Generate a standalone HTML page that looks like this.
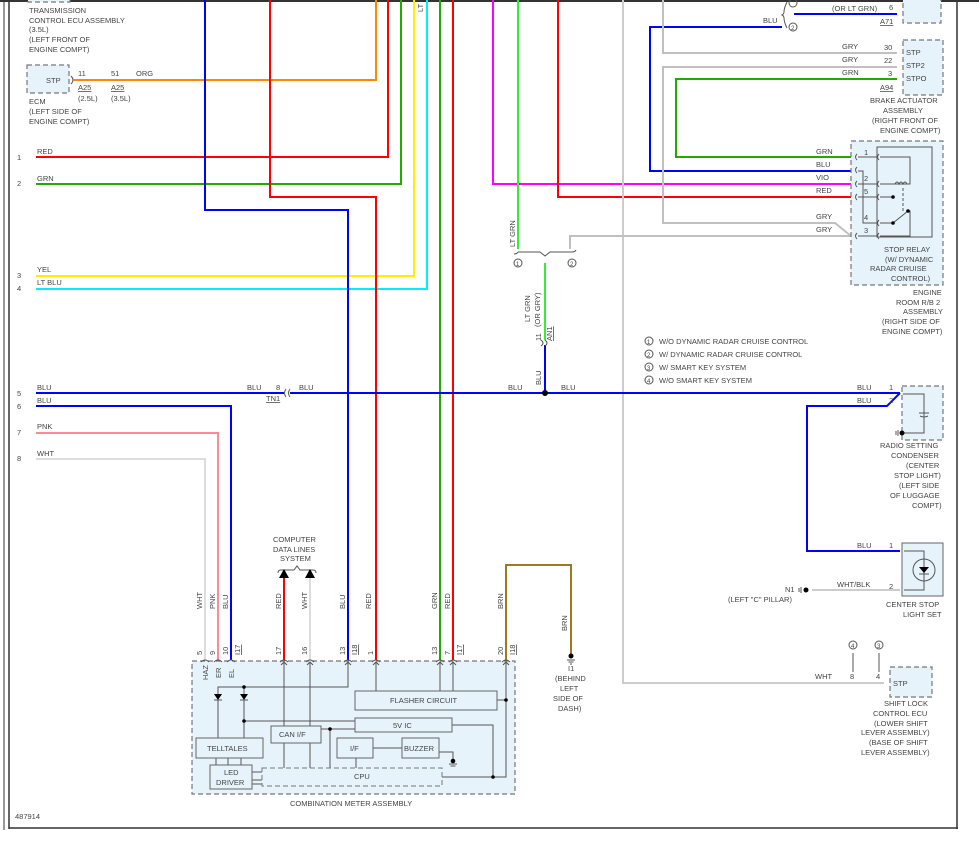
<!DOCTYPE html>
<html><head><meta charset="utf-8"><style>
html,body{margin:0;padding:0;background:#fff;}
svg{display:block;font-family:"Liberation Sans",sans-serif;}
text{font-size:7.5px;fill:#444;}
.w{fill:none;stroke-width:2;}
.t{fill:none;stroke:#555;stroke-width:1;}
.box{fill:#e6f3fb;stroke:#777;stroke-width:1.2;stroke-dasharray:5,3;}
.ib{fill:#e6f3fb;stroke:#666;stroke-width:1;}
</style></head><body>
<svg width="979" height="846" viewBox="0 0 979 846" xmlns="http://www.w3.org/2000/svg">
<rect x="0" y="0" width="979" height="846" fill="#fff"/>
<!-- frame -->
<line x1="0" y1="1" x2="979" y2="1" stroke="#333" stroke-width="2"/>
<line x1="4" y1="0" x2="4" y2="830" stroke="#333" stroke-width="1"/>
<line x1="9" y1="0" x2="9" y2="829" stroke="#333" stroke-width="1.5"/>
<line x1="9" y1="828" x2="958" y2="828" stroke="#333" stroke-width="1.5"/>
<line x1="957" y1="0" x2="957" y2="829" stroke="#333" stroke-width="1.5"/>

<!-- top-left text -->
<rect x="28" y="-6" width="42" height="8" class="box"/>
<text x="29" y="13">TRANSMISSION</text>
<text x="29" y="23">CONTROL ECU ASSEMBLY</text>
<text x="29" y="32">(3.5L)</text>
<text x="29" y="42">(LEFT FRONT OF</text>
<text x="29" y="52">ENGINE COMPT)</text>
<rect x="27" y="65" width="42" height="28" class="box"/>
<text x="46" y="83">STP</text>
<text x="29" y="104">ECM</text>
<text x="29" y="114">(LEFT SIDE OF</text>
<text x="29" y="124">ENGINE COMPT)</text>
<text x="78" y="76">11</text><text x="111" y="76">51</text><text x="136" y="76">ORG</text>
<text x="78" y="90" text-decoration="underline">A25</text><text x="111" y="90" text-decoration="underline">A25</text>
<text x="78" y="101">(2.5L)</text><text x="111" y="101">(3.5L)</text>
<path d="M71 76 q4 4 0 8" class="t"/>

<!-- left wire numbers & labels -->
<text x="17" y="160">1</text><text x="17" y="186">2</text><text x="17" y="278">3</text><text x="17" y="291">4</text>
<text x="17" y="396">5</text><text x="17" y="409">6</text><text x="17" y="435">7</text><text x="17" y="461">8</text>
<text x="37" y="154">RED</text><text x="37" y="181">GRN</text><text x="37" y="272">YEL</text><text x="37" y="285">LT BLU</text>
<text x="37" y="390">BLU</text><text x="37" y="403">BLU</text><text x="37" y="429">PNK</text><text x="37" y="456">WHT</text>

<!-- wires -->
<polyline class="w" stroke="#ff8800" points="73,80 376,80 376,0"/>
<polyline class="w" stroke="#ff0000" points="36,157 388,157 388,0"/>
<polyline class="w" stroke="#22aa00" points="36,184 401,184 401,0"/>
<polyline class="w" stroke="#ffee00" points="36,276 414,276 414,0"/>
<polyline class="w" stroke="#00eeff" points="36,289 427,289 427,0"/>
<polyline class="w" stroke="#0000ff" points="205,0 205,210 348,210 348,660"/>
<polyline class="w" stroke="#ff0000" points="270,0 270,197 376,197 376,660"/>
<line class="w" stroke="#22aa00" x1="440" y1="0" x2="440" y2="660"/>
<line class="w" stroke="#ff0000" x1="453" y1="0" x2="453" y2="660"/>
<text x="0" y="0" transform="translate(423,12) rotate(-90)">LT</text>
<polyline class="w" stroke="#ff00ff" points="493,0 493,184 855,184"/>
<line class="w" stroke="#33ee33" x1="518" y1="0" x2="518" y2="249"/>
<polyline class="w" stroke="#ff0000" points="558,0 558,197 855,197"/>
<polyline class="w" stroke="#cccccc" points="623,0 623,683 884,683"/>
<polyline class="w" stroke="#0000ff" points="782,27 650,27 650,171 855,171"/>
<line class="w" stroke="#0000ff" x1="794" y1="14" x2="897" y2="14"/>
<polyline class="w" stroke="#c0c0c0" points="663,0 663,53 897,53"/>
<polyline class="w" stroke="#c0c0c0" points="897,67 663,67 663,223 835,223 851,236"/>
<polyline class="w" stroke="#22aa00" points="897,79 676,79 676,157 855,157"/>
<polyline class="w" stroke="#c0c0c0" points="570,249 570,236 855,236"/>
<line class="w" stroke="#33ee33" x1="545" y1="263" x2="545" y2="340"/>
<line class="w" stroke="#0000ff" x1="545" y1="345" x2="545" y2="393"/>
<line class="w" stroke="#0000ff" x1="36" y1="393" x2="284" y2="393"/>
<line class="w" stroke="#0000ff" x1="290" y1="393" x2="900" y2="393"/>
<circle cx="545" cy="393" r="3" fill="#000"/>
<polyline class="w" stroke="#0000ff" points="36,406 231,406 231,660"/>
<polyline class="w" stroke="#ff8899" points="36,433 218,433 218,660"/>
<polyline class="w" stroke="#dddddd" points="36,459 205,459 205,660"/>
<polyline class="w" stroke="#0000ff" points="900,393 887,406 807,406 807,551 900,551"/>
<line class="w" stroke="#cccccc" x1="812" y1="590" x2="900" y2="590"/>
<polyline class="w" stroke="#a07820" points="506,660 506,565 571,565 571,655"/>
<line class="w" stroke="#ff0000" x1="284" y1="578" x2="284" y2="660"/>
<line class="w" stroke="#dddddd" x1="310" y1="578" x2="310" y2="660"/>

<!-- TN1 -->
<text x="247" y="390">BLU</text><text x="276" y="390">8</text><text x="299" y="390">BLU</text>
<text x="266" y="401" text-decoration="underline">TN1</text>
<path d="M286 389 q-3 4 0 8 M290 389 q-3 4 0 8" class="t"/>
<text x="508" y="390">BLU</text><text x="561" y="390">BLU</text>
<text x="857" y="390">BLU</text><text x="889" y="390">1</text>
<text x="857" y="403">BLU</text><text x="889" y="403">2</text>

<!-- splice -->
<path d="M514 254 q3 0 4 -2 M518 252 L540 252 L545 256 L550 252 L572 252 q3 0 4 -2" class="t" stroke="#666"/>
<circle cx="518" cy="263" r="4" class="t"/><text x="516" y="266" style="font-size:6px">1</text>
<circle cx="572" cy="263" r="4" class="t"/><text x="570" y="266" style="font-size:6px">2</text>
<text transform="translate(515,247) rotate(-90)">LT GRN</text>
<text transform="translate(530,322) rotate(-90)">LT GRN</text>
<text transform="translate(540,327) rotate(-90)">(OR GRY)</text>
<text transform="translate(541,341) rotate(-90)">11</text>
<text transform="translate(552,341) rotate(-90)" text-decoration="underline">AN1</text>
<path d="M541 340 q4 3 0 6 M545 340 q4 3 0 6" class="t"/>
<text transform="translate(541,385) rotate(-90)">BLU</text>

<!-- legend -->
<circle cx="649" cy="341" r="4" class="t"/><text x="647" y="344" style="font-size:6px">1</text><text x="659" y="344">W/O DYNAMIC RADAR CRUISE CONTROL</text>
<circle cx="649" cy="354" r="4" class="t"/><text x="647" y="357" style="font-size:6px">2</text><text x="659" y="357">W/ DYNAMIC RADAR CRUISE CONTROL</text>
<circle cx="649" cy="367" r="4" class="t"/><text x="647" y="370" style="font-size:6px">3</text><text x="659" y="370">W/ SMART KEY SYSTEM</text>
<circle cx="649" cy="380" r="4" class="t"/><text x="647" y="383" style="font-size:6px">4</text><text x="659" y="383">W/O SMART KEY SYSTEM</text>

<!-- top right -->
<rect x="903" y="-6" width="38" height="29" class="box"/>
<text x="832" y="11">(OR LT GRN)</text><text x="889" y="10">6</text>
<text x="880" y="24" text-decoration="underline">A71</text>
<path d="M787 2 q-3 6 -3 10 q0 2 -2 3 q2 1 2 3 q0 4 3 10" class="t"/>
<circle cx="793" cy="3" r="4" class="t"/>
<circle cx="793" cy="27" r="4" class="t"/><text x="791" y="30" style="font-size:6px">2</text>
<text x="763" y="23">BLU</text>

<!-- brake actuator -->
<rect x="903" y="40" width="40" height="55" class="box"/>
<text x="906" y="55">STP</text><text x="906" y="68">STP2</text><text x="906" y="81">STPO</text>
<text x="842" y="49">GRY</text><text x="884" y="50">30</text>
<text x="842" y="62">GRY</text><text x="884" y="63">22</text>
<text x="842" y="75">GRN</text><text x="888" y="76">3</text>
<text x="880" y="90" text-decoration="underline">A94</text>
<text x="870" y="103">BRAKE ACTUATOR</text>
<text x="883" y="113">ASSEMBLY</text>
<text x="872" y="123">(RIGHT FRONT OF</text>
<text x="880" y="133">ENGINE COMPT)</text>

<!-- engine room R/B -->
<rect x="851" y="141" width="92" height="144" class="box"/>
<rect x="877" y="147" width="55" height="90" fill="none" stroke="#555"/>
<text x="816" y="154">GRN</text><text x="816" y="167">BLU</text><text x="816" y="180">VIO</text><text x="816" y="193">RED</text>
<text x="816" y="219">GRY</text><text x="816" y="232">GRY</text>
<text x="864" y="155">1</text><text x="864" y="181">2</text><text x="864" y="194">5</text><text x="864" y="220">4</text><text x="864" y="233">3</text>
<g class="t">
<path d="M857 154 q-3 3 0 6 M857 167 q-3 3 0 6 M857 181 q-3 3 0 6 M857 194 q-3 3 0 6 M857 233 q-3 3 0 6"/>
<path d="M879 154 q-3 3 0 6 M879 181 q-3 3 0 6 M879 194 q-3 3 0 6 M879 220 q-3 3 0 6 M879 233 q-3 3 0 6"/>
<path d="M858 157 H877 M858 184 H877 M858 197 H877 M858 236 H877 M858 171 H863 V223 H877"/>
<path d="M880 157 H910 V184 H880 M880 197 H893 M880 223 H893 L908 211 H910 V236 H880"/>
<path d="M895 184 q2 -4 4 0 q2 -4 4 0 q2 -4 4 0" />
<path d="M903 188 V212" stroke-dasharray="3,2"/>
</g>
<circle cx="893" cy="197" r="1.8" fill="#000"/><circle cx="893" cy="223" r="1.8" fill="#000"/><circle cx="908" cy="211" r="1.8" fill="#000"/>
<text x="884" y="252">STOP RELAY</text>
<text x="885" y="262">(W/ DYNAMIC</text>
<text x="870" y="271">RADAR CRUISE</text>
<text x="891" y="281">CONTROL)</text>
<text x="913" y="295">ENGINE</text>
<text x="896" y="305">ROOM R/B 2</text>
<text x="903" y="314">ASSEMBLY</text>
<text x="882" y="324">(RIGHT SIDE OF</text>
<text x="882" y="334">ENGINE COMPT)</text>

<!-- radio condenser -->
<rect x="902" y="386" width="41" height="54" class="box"/>
<path d="M903 394 H924 V433 H903 M919 413 H929 M920 416 q4 2 8 0" class="t"/>
<circle cx="902" cy="433" r="2.5" fill="#000"/><path d="M898 430 V436 M896 431 V435" class="t"/>
<text x="880" y="448">RADIO SETTING</text>
<text x="891" y="458">CONDENSER</text>
<text x="906" y="468">(CENTER</text>
<text x="894" y="478">STOP LIGHT)</text>
<text x="899" y="488">(LEFT SIDE</text>
<text x="890" y="498">OF LUGGAGE</text>
<text x="912" y="508">COMPT)</text>

<!-- center stop light -->
<rect x="902" y="543" width="41" height="53" class="ib" stroke="#555"/>
<path d="M904 551 H924 V590 H904" class="t"/>
<circle cx="924" cy="570" r="11" class="t" fill="#e6f3fb"/>
<path d="M919 567 L929 567 L924 573 Z" fill="#000"/><path d="M919 574 H929" class="t"/>
<text x="857" y="548">BLU</text><text x="889" y="548">1</text>
<text x="837" y="587">WHT/BLK</text><text x="889" y="589">2</text>
<circle cx="806" cy="590" r="2.5" fill="#000"/><path d="M801 587 V593 M799 588 V592" class="t"/>
<text x="785" y="592">N1</text>
<text x="728" y="602">(LEFT "C" PILLAR)</text>
<text x="886" y="607">CENTER STOP</text>
<text x="903" y="617">LIGHT SET</text>

<!-- shift lock -->
<circle cx="853" cy="645" r="4" class="t"/><text x="851" y="648" style="font-size:6px">4</text>
<circle cx="879" cy="645" r="4" class="t"/><text x="877" y="648" style="font-size:6px">3</text>
<path d="M853 653 V672 M879 653 V672" class="t"/>
<text x="850" y="679">8</text><text x="876" y="679">4</text><text x="815" y="679">WHT</text>
<rect x="890" y="667" width="42" height="30" class="box"/>
<text x="893" y="686">STP</text>
<text x="884" y="706">SHIFT LOCK</text>
<text x="873" y="716">CONTROL ECU</text>
<text x="874" y="726">(LOWER SHIFT</text>
<text x="861" y="735">LEVER ASSEMBLY)</text>
<text x="869" y="745">(BASE OF SHIFT</text>
<text x="861" y="755">LEVER ASSEMBLY)</text>

<!-- computer data lines -->
<text x="273" y="542">COMPUTER</text><text x="273" y="552">DATA LINES</text><text x="280" y="561">SYSTEM</text>
<path d="M278 573 q0 -3 3 -3 L294 570 L297 566 L300 570 L313 570 q3 0 3 3" class="t"/>
<path d="M279 578 L284 569 L289 578 Z M305 578 L310 569 L315 578 Z" fill="#000"/>

<!-- ground I1 -->
<circle cx="571" cy="656" r="2.5" fill="#000"/><path d="M567 660 H575 M568.5 662 H573.5 M570 664 H572" class="t"/>
<text transform="translate(567,631) rotate(-90)">BRN</text>
<text x="568" y="671">I1</text>
<text x="555" y="681">(BEHIND</text><text x="560" y="691">LEFT</text><text x="553" y="701">SIDE OF</text><text x="558" y="711">DASH)</text>

<!-- meter vertical labels -->
<g>
<text transform="translate(202,609) rotate(-90)">WHT</text>
<text transform="translate(215,609) rotate(-90)">PNK</text>
<text transform="translate(228,609) rotate(-90)">BLU</text>
<text transform="translate(281,609) rotate(-90)">RED</text>
<text transform="translate(307,609) rotate(-90)">WHT</text>
<text transform="translate(345,609) rotate(-90)">BLU</text>
<text transform="translate(371,609) rotate(-90)">RED</text>
<text transform="translate(437,609) rotate(-90)">GRN</text>
<text transform="translate(450,609) rotate(-90)">RED</text>
<text transform="translate(503,609) rotate(-90)">BRN</text>
<text transform="translate(202,655) rotate(-90)">5</text>
<text transform="translate(215,655) rotate(-90)">9</text>
<text transform="translate(228,655) rotate(-90)">10</text>
<text transform="translate(240,655) rotate(-90)" text-decoration="underline">I17</text>
<text transform="translate(281,655) rotate(-90)">17</text>
<text transform="translate(307,655) rotate(-90)">16</text>
<text transform="translate(345,655) rotate(-90)">13</text>
<text transform="translate(357,655) rotate(-90)" text-decoration="underline">I18</text>
<text transform="translate(373,655) rotate(-90)">1</text>
<text transform="translate(437,655) rotate(-90)">13</text>
<text transform="translate(450,655) rotate(-90)">7</text>
<text transform="translate(462,655) rotate(-90)" text-decoration="underline">I17</text>
<text transform="translate(503,655) rotate(-90)">20</text>
<text transform="translate(515,655) rotate(-90)" text-decoration="underline">I18</text>
</g>

<!-- meter box -->
<rect x="192" y="661" width="323" height="133" class="box"/>
<g class="t">
<path d="M201 662 q4 -4 8 0 M214 662 q4 -4 8 0 M227 662 q4 -4 8 0 M280 662 q4 -4 8 0 M306 662 q4 -4 8 0 M344 662 q4 -4 8 0 M372 662 q4 -4 8 0 M436 662 q4 -4 8 0 M449 662 q4 -4 8 0 M502 662 q4 -4 8 0"/>
<path d="M281 665 L284 662 L287 665 M307 665 L310 662 L313 665 M345 665 L348 662 L351 665 M373 665 L376 662 L379 665 M437 665 L440 662 L443 665 M450 665 L453 662 L456 665 M503 665 L506 662 L509 665"/>
<path d="M348 662 V687 H218 V738 M244 687 V738 M244 721 H355 M284 662 V726 M310 662 V726 M376 662 V691 M440 662 V691 M453 662 V691 M506 662 V777 H493 V725 H452 M497 700 H506 M321 729 H355 M330 729 V768 M284 743 V768 M310 743 V768 M356 758 V768 M373 748 H402 M439 752 H453 V762 M442 777 H493 M216 758 V765 M228 758 V765 M241 758 V765 M252 772 H262 M252 780 H262 M252 784 H262"/>
</g>
<path d="M214 694 H222 L218 700 Z M240 694 H248 L244 700 Z" fill="#000"/>
<path d="M214 700 H222 M240 700 H248" class="t"/>
<circle cx="244" cy="687" r="1.8" fill="#000"/><circle cx="244" cy="721" r="1.8" fill="#000"/>
<circle cx="330" cy="729" r="1.8" fill="#000"/><circle cx="506" cy="700" r="1.8" fill="#000"/><circle cx="493" cy="777" r="1.8" fill="#000"/>
<circle cx="453" cy="761" r="2.3" fill="#000"/><path d="M449 764 H457 M450.5 766 H455.5" class="t"/>
<text transform="translate(208,680) rotate(-90)">HAZ</text>
<text transform="translate(221,678) rotate(-90)">ER</text>
<text transform="translate(234,678) rotate(-90)">EL</text>
<rect x="355" y="691" width="142" height="19" class="ib"/><text x="390" y="703">FLASHER CIRCUIT</text>
<rect x="355" y="718" width="97" height="14" class="ib"/><text x="393" y="728">5V IC</text>
<rect x="271" y="726" width="50" height="17" class="ib"/><text x="279" y="737">CAN I/F</text>
<rect x="196" y="738" width="67" height="20" class="ib"/><text x="207" y="751">TELLTALES</text>
<rect x="337" y="738" width="36" height="20" class="ib"/><text x="350" y="751">I/F</text>
<rect x="402" y="738" width="37" height="20" class="ib"/><text x="404" y="751">BUZZER</text>
<rect x="262" y="768" width="180" height="18" fill="none" stroke="#777" stroke-dasharray="5,3"/>
<text x="354" y="779">CPU</text>
<rect x="210" y="765" width="42" height="24" class="ib"/><text x="224" y="775">LED</text><text x="216" y="785">DRIVER</text>
<text x="290" y="806">COMBINATION METER ASSEMBLY</text>
<text x="15" y="819">487914</text>
</svg>
</body></html>
